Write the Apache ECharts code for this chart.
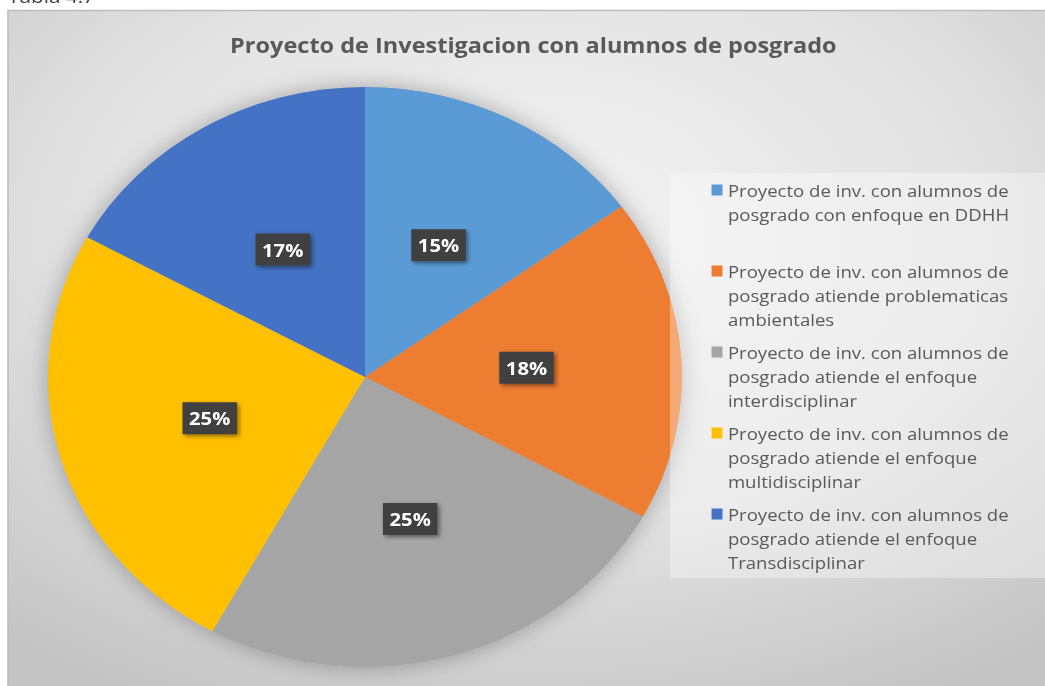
<!DOCTYPE html>
<html>
<head>
<meta charset="utf-8">
<script src="https://cdn.jsdelivr.net/npm/echarts@6/dist/echarts.min.js"></script>
<style>
html,body{margin:0;padding:0;background:#fff;overflow:hidden;width:1045px;height:686px;}
#chart{width:956px;height:686px;transform:scaleX(1.093);transform-origin:0 0;}
</style>
</head>
<body>
<div id="chart"></div>
<script>
const chartTitle = 'Proyecto de Investigacion con alumnos de posgrado';
const categories = [
  'Proyecto de inv. con alumnos de posgrado con enfoque en DDHH',
  'Proyecto de inv. con alumnos de posgrado atiende problematicas ambientales',
  'Proyecto de inv. con alumnos de posgrado atiende el enfoque interdisciplinar',
  'Proyecto de inv. con alumnos de posgrado atiende el enfoque multidisciplinar',
  'Proyecto de inv. con alumnos de posgrado atiende el enfoque Transdisciplinar'
];
const legendLabels = [
  'Proyecto de inv. con alumnos de\nposgrado con enfoque en DDHH\n ',
  'Proyecto de inv. con alumnos de\nposgrado atiende problematicas\nambientales',
  'Proyecto de inv. con alumnos de\nposgrado atiende el enfoque\ninterdisciplinar',
  'Proyecto de inv. con alumnos de\nposgrado atiende el enfoque\nmultidisciplinar',
  'Proyecto de inv. con alumnos de\nposgrado atiende el enfoque\nTransdisciplinar'
];
const values = [15, 18, 25, 25, 17];
const colors = ['#5B9BD5', '#ED7D31', '#A5A5A5', '#FFC000', '#4472C4'];

const chart = echarts.init(document.getElementById('chart'), null, {renderer: 'svg'});
const FONT = 'Open Sans';

const option = {
  animation: false,
  graphic: [
    {
      type: 'rect', z: -10, silent: true,
      shape: {x: 7.3, y: 10.5, width: 1000, height: 700},
      style: {
        fill: {
          type: 'radial', x: 0.48, y: 0.32, r: 0.75,
          colorStops: [
            {offset: 0, color: '#f4f4f4'},
            {offset: 0.55, color: '#e2e2e2'},
            {offset: 1, color: '#c4c4c4'}
          ]
        },
        stroke: '#bdbdbd', lineWidth: 1.5
      }
    },
    {
      type: 'text', z: -5, silent: true, left: 7.3, top: -14,
      style: {text: 'Tabla 4.7', font: '19px "Open Sans"', fill: '#404040'}
    }
  ],
  title: {
    text: chartTitle,
    left: 488, top: 31, textAlign: 'center', padding: 0,
    textStyle: {fontFamily: FONT, fontSize: 21.5, fontWeight: 'bold', color: '#595959', lineHeight: 28}
  },
  legend: {
    orient: 'vertical',
    left: 613, top: 173,
    padding: [5, 40, 4, 38],
    backgroundColor: 'rgba(255,255,255,0.35)',
    itemGap: 9,
    itemWidth: 10,
    itemHeight: 72,
    icon: 'path://M0,0h0.01v0.01h-0.01zM0,6.5h10v11h-10zM9.99,71.99h0.01v0.01h-0.01z',
    data: categories,
    selectedMode: false,
    itemStyle: {borderWidth: 0},
    formatter: function (name) { return legendLabels[categories.indexOf(name)]; },
    textStyle: {fontFamily: FONT, fontSize: 17, lineHeight: 24, color: '#595959'}
  },
  series: [
    {
      type: 'pie', silent: true, z: 1,
      center: [334, 377], radius: 290,
      label: {show: false}, labelLine: {show: false},
      itemStyle: {color: '#b0b0b0', borderWidth: 0, shadowBlur: 22, shadowColor: 'rgba(0,0,0,0.3)'},
      data: [{value: 1, name: 'sombra'}]
    },
    {
      type: 'pie', z: 2,
      center: [334, 377], radius: 290,
      startAngle: 90, clockwise: true,
      avoidLabelOverlap: false,
      itemStyle: {borderWidth: 0},
      emphasis: {disabled: true},
      label: {
        show: true, position: 'inside', formatter: '{d}%',
        fontFamily: FONT, fontSize: 18.5, fontWeight: 'bold', color: '#ffffff',
        backgroundColor: '#404040', padding: [6, 6, 5, 6], lineHeight: 21,
        shadowBlur: 4, shadowOffsetX: 2, shadowOffsetY: 2, shadowColor: 'rgba(0,0,0,0.45)'
      },
      labelLine: {show: false},
      data: categories.map((c, i) => ({name: c, value: values[i], itemStyle: {color: colors[i]}}))
    }
  ]
};
chart.setOption(option);
</script>
</body>
</html>
